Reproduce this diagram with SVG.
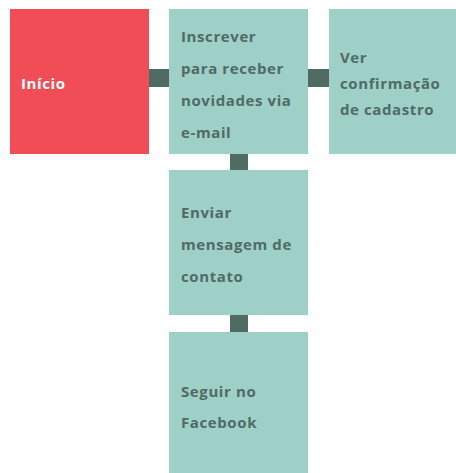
<svg xmlns="http://www.w3.org/2000/svg" width="456" height="473" viewBox="0 0 456 473">
<style>
.box{fill:#9ed0c8}
.start{fill:#f04d57}
.con{fill:#4f6b65}
text{font-family:"Open Sans","Liberation Sans",sans-serif;font-weight:700;font-size:15px;letter-spacing:0.6px;fill:#4f6b65}
.w{fill:#ffffff}
</style>
<rect width="456" height="473" fill="#ffffff"/>
<g id="connectors">
<rect class="con" x="149" y="69" width="20" height="18"/>
<rect class="con" x="308" y="69" width="21" height="18"/>
<rect class="con" x="230" y="154" width="18" height="16"/>
<rect class="con" x="230" y="315" width="18" height="17"/>
</g>
<g id="inicio">
<rect class="start" x="10" y="9" width="139" height="145"/>
<text class="w" x="21" y="89">Início</text>
</g>
<g id="inscrever">
<rect class="box" x="169" y="9" width="139" height="145"/>
<text x="181" y="42">Inscrever</text>
<text x="181" y="74">para receber</text>
<text x="181" y="106">novidades via</text>
<text x="181" y="138">e-mail</text>
</g>
<g id="confirmacao">
<rect class="box" x="329" y="9" width="127" height="145"/>
<text x="340" y="63">Ver</text>
<text x="340" y="89">confirmação</text>
<text x="340" y="115">de cadastro</text>
</g>
<g id="contato">
<rect class="box" x="169" y="170" width="139" height="145"/>
<text x="181" y="218">Enviar</text>
<text x="181" y="250">mensagem de</text>
<text x="181" y="282">contato</text>
</g>
<g id="facebook">
<rect class="box" x="169" y="332" width="139" height="141"/>
<text x="181" y="397">Seguir no</text>
<text x="181" y="428">Facebook</text>
</g>
</svg>
